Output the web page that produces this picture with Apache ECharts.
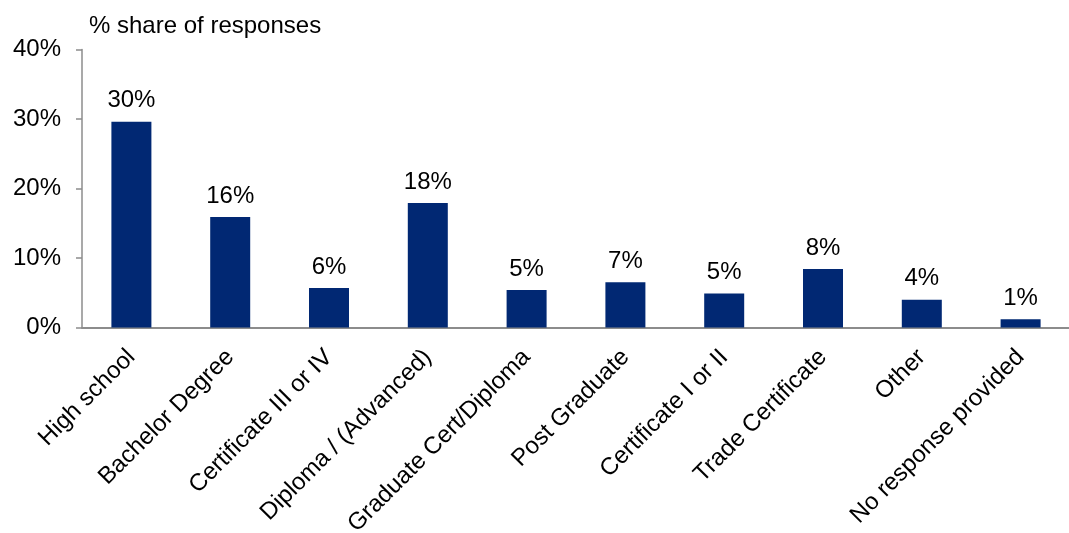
<!DOCTYPE html>
<html>
<head>
<meta charset="utf-8">
<style>
  html, body { margin: 0; padding: 0; background: #ffffff; }
  #chart { width: 1069px; height: 533px; }
</style>
<script src="https://cdn.jsdelivr.net/npm/echarts@6/dist/echarts.min.js"></script>
</head>
<body>
<div id="chart"></div>
<script>
// Highest level of education, share of responses (%)
const categories = [
  'High school', 'Bachelor Degree', 'Certificate III or IV', 'Diploma / (Advanced)',
  'Graduate Cert/Diploma', 'Post Graduate', 'Certificate I or II', 'Trade Certificate',
  'Other', 'No response provided'
];
const shares = [29.6, 15.9, 5.7, 17.9, 5.4, 6.5, 4.9, 8.4, 4.0, 1.2];
const yTicks = [0, 10, 20, 30, 40];
const axisTitle = '% share of responses';

const font = '"Liberation Sans", Arial, sans-serif';
const fontSize = 24;
const axisGrey = '#8c8c8c';

const chart = echarts.init(document.getElementById('chart'), null, { renderer: 'canvas' });
chart.setOption({
  animation: false,
  backgroundColor: '#ffffff',
  title: {
    text: axisTitle,
    left: 84,
    top: 9,
    textStyle: { fontFamily: font, fontSize: fontSize, fontWeight: 'normal', color: '#000000' }
  },
  // fixed plot rectangle; long rotated labels must not shrink it
  grid: { left: 82, right: -1, top: 49.5, bottom: 205.5, containLabel: false, outerBoundsMode: 'none' },
  xAxis: {
    type: 'category',
    data: categories,
    axisLine: { show: true, lineStyle: { color: axisGrey, width: 2 } },
    axisTick: { show: false },
    axisLabel: {
      interval: 0,
      rotate: 45,
      margin: 26,
      fontFamily: font,
      fontSize: fontSize,
      color: '#000000'
    },
    splitLine: { show: false }
  },
  yAxis: {
    type: 'value',
    min: yTicks[0],
    max: yTicks[yTicks.length - 1],
    interval: yTicks[1] - yTicks[0],
    axisLine: { show: true, lineStyle: { color: axisGrey, width: 1.5 } },
    axisTick: { show: true, length: 6, lineStyle: { color: axisGrey, width: 1.5 } },
    axisLabel: {
      margin: 21,
      formatter: '{value}%',
      fontFamily: font,
      fontSize: fontSize,
      color: '#000000'
    },
    splitLine: { show: false }
  },
  series: [{
    type: 'bar',
    data: shares,
    barWidth: 40,
    itemStyle: { color: '#012873' },
    label: {
      show: true,
      position: 'top',
      distance: 9,
      formatter: p => Math.round(p.value) + '%',
      fontFamily: font,
      fontSize: fontSize,
      color: '#000000'
    }
  }]
});
</script>
</body>
</html>
